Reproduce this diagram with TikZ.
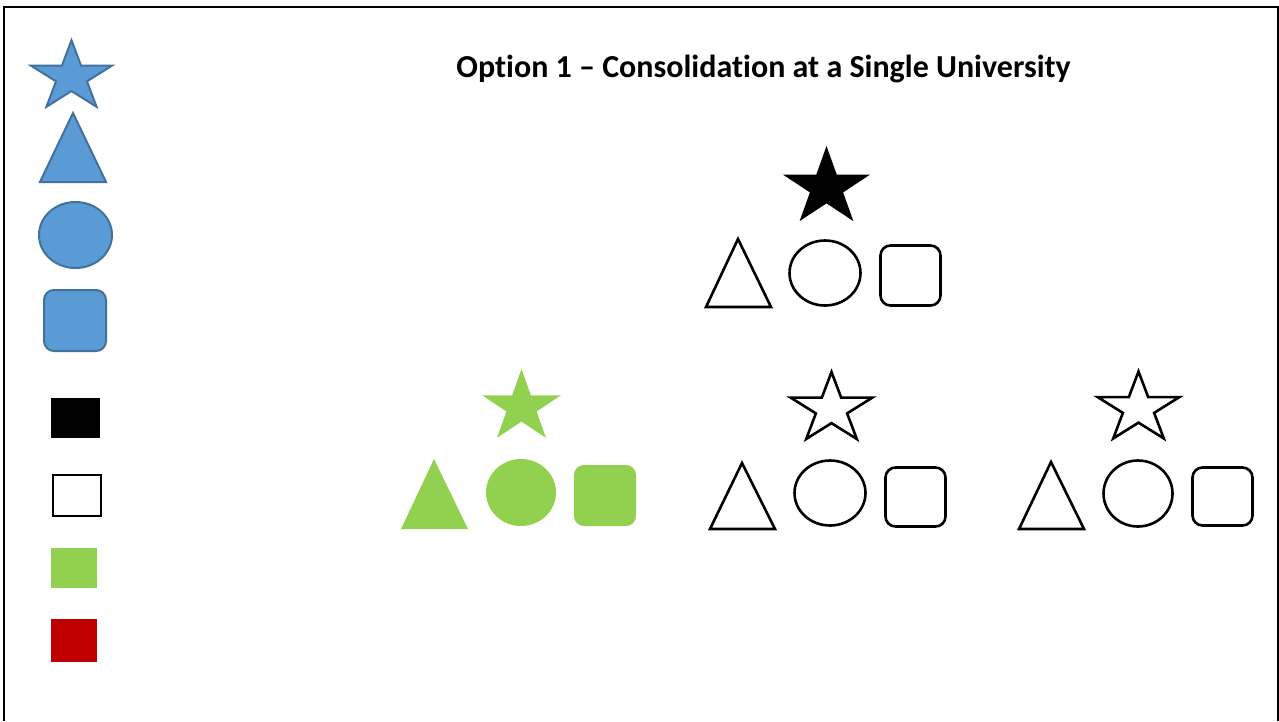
\documentclass[tikz,border=0pt]{standalone}
\usepackage{fontspec}
\setmainfont{Carlito}[Ligatures=NoCommon]
\definecolor{bluefill}{HTML}{5B9BD5}
\definecolor{bluestroke}{HTML}{41719C}
\definecolor{greenfill}{HTML}{92D050}
\definecolor{redfill}{HTML}{C00000}
\tikzset{
  starp/.pic={\path[pic actions] (90:1) -- (126:0.382) -- (162:1) -- (198:0.382) -- (234:1) -- (270:0.382) -- (306:1) -- (342:0.382) -- (18:1) -- (54:0.382) -- cycle;},
  blueshape/.style={fill=bluefill, draw=bluestroke, line width=2pt, line join=miter},
  greenshape/.style={fill=greenfill},
  blackshape/.style={fill=black},
  outline/.style={draw=black, fill=white, line width=2.6pt, line join=miter},
  rsq/.style={rounded corners=10pt},
}
\begin{document}
\begin{tikzpicture}[x=1pt,y=1pt]
\useasboundingbox (0,0) rectangle (1279,-721);
\fill[white] (0,0) rectangle (1279,-721);
% frame
\draw[line width=2.4pt] (4,-721) -- (4,-7) -- (1278,-7) -- (1278,-721);
% title
\node[font=\bfseries\fontsize{32}{36}\selectfont, anchor=base] (title) at (763.5,-77) {Option 1 – Consolidation at a Single University};
% legend (blue)
\pic[blueshape, xscale=42.6, yscale=36.8] at (71.5,-77) {starp};
\draw[blueshape] (73,-113) -- (40,-182) -- (106,-182) -- cycle;
\draw[blueshape] (75.5,-235) ellipse [x radius=36.5, y radius=33];
\draw[blueshape, rsq] (44,-290) rectangle (106,-351);
% legend squares
\fill[black] (51,-398) rectangle (100,-438);
\draw[line width=2pt, fill=white] (53,-475) rectangle (101,-516);
\fill[greenfill] (51,-548) rectangle (97,-588);
\fill[redfill] (51,-619) rectangle (97,-662);
% top group
\pic[blackshape, xscale=45.7, yscale=41.5] at (826.5,-187.5) {starp};
\draw[outline] (738,-239) -- (706,-307) -- (771,-307) -- cycle;
\draw[outline] (825,-273) ellipse [x radius=35.5, y radius=32.5];
\draw[outline, rsq] (880.5,-245.5) rectangle (940.5,-305.5);
% green group
\pic[greenshape, xscale=41.5, yscale=38] at (521.5,-407) {starp};
\fill[greenfill] (434,-459) -- (401,-529) -- (468,-529) -- cycle;
\fill[greenfill] (521,-492.5) ellipse [x radius=35, y radius=33.5];
\fill[greenfill, rsq] (574,-465) rectangle (636,-526);
% middle group
\pic[outline, xscale=43, yscale=37] at (831.5,-409) {starp};
\draw[outline] (742,-463) -- (710,-529) -- (775,-529) -- cycle;
\draw[outline] (830,-493) ellipse [x radius=35.5, y radius=32.5];
\draw[outline, rsq] (885.5,-467.5) rectangle (945.5,-526.5);
% right group
\pic[outline, xscale=43, yscale=37] at (1138.5,-408.5) {starp};
\draw[outline] (1051,-462) -- (1019,-529) -- (1084,-529) -- cycle;
\draw[outline] (1138,-493.5) ellipse [x radius=34.5, y radius=33];
\draw[outline, rsq] (1192.5,-467.5) rectangle (1252.5,-525.5);
\end{tikzpicture}
\end{document}
